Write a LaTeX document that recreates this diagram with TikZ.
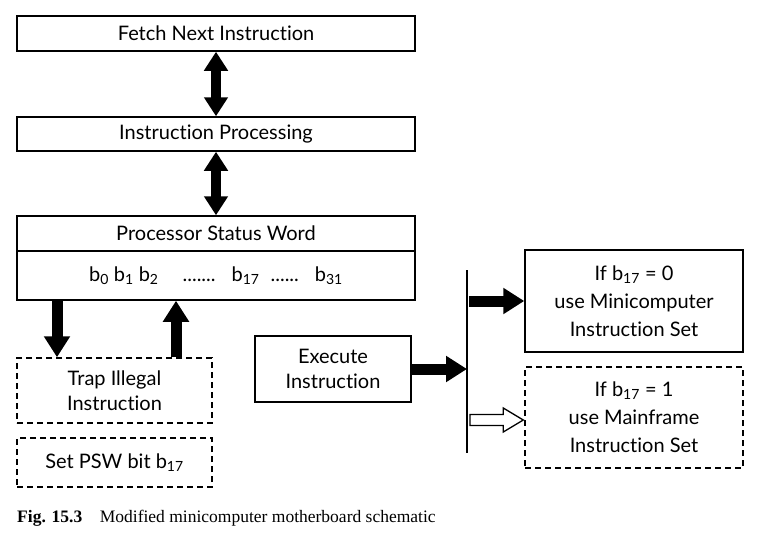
\documentclass[tikz,border=0pt]{standalone}
\usepackage{fontspec}
\setmainfont{Lato}[Ligatures={NoCommon}]
\newfontfamily\capfont{Liberation Serif}
\usetikzlibrary{arrows.meta,calc}
\tikzset{
  box/.style={draw, line width=1.5pt, rectangle, inner sep=0pt, align=center,
    font=\fontsize{20}{25}\selectfont},
  dbox/.style={box, dash pattern=on 6pt off 4pt},
  dblarrow/.style={line width=10pt, {Triangle[width=23pt,length=19pt]}-{Triangle[width=23pt,length=19pt]}},
  blkarrow/.style={line width=11pt, -{Triangle[width=25pt,length=21pt]}},
  hollow/.style={draw, line width=1.3pt, fill=white, line join=miter},
}
\begin{document}
\begin{tikzpicture}[x=1pt,y=-1pt]
\useasboundingbox (0,0) rectangle (779,549);
% boxes
\node[box, minimum width=398pt, minimum height=35pt] (fetch) at (216,33.5) {Fetch Next Instruction};
\node[box, minimum width=398pt, minimum height=34pt] (proc) at (216,134) {Instruction Processing};
\node[box, minimum width=398pt, minimum height=35pt] (psw) at (216,233.5) {Processor Status Word};
\node[box, minimum width=398pt, minimum height=49pt] (bits) at (216,275.5)
  {b\textsubscript{0}\hspace{5pt}b\textsubscript{1}\hspace{5pt}b\textsubscript{2}\hspace{24pt}.......\hspace{16pt}b\textsubscript{17}\hspace{11pt}......\hspace{16pt}b\textsubscript{31}};
\node[dbox, minimum width=195pt, minimum height=65pt] (trap) at (114.5,390.5) {Trap Illegal\\Instruction};
\node[dbox, minimum width=195pt, minimum height=49pt] (setb) at (114.5,462.5) {Set PSW bit b\textsubscript{17}};
\node[box, minimum width=156pt, minimum height=66pt] (exec) at (333,369) {Execute\\Instruction};
\node[box, minimum width=218pt, minimum height=102pt, font=\fontsize{20}{28}\selectfont] (mini) at (634,301) {If b\textsubscript{17} = 0\\use Minicomputer\\Instruction Set};
\node[dbox, minimum width=218pt, minimum height=101pt, font=\fontsize{20}{28}\selectfont] (main) at (634,417.5) {If b\textsubscript{17} = 1\\use Mainframe\\Instruction Set};
% vertical bar
\coordinate (bt) at (467,270);
\coordinate (bb) at (467,453);
\draw[line width=1.5pt] (bt) -- (bb);
% arrows
\draw[dblarrow] (fetch.south) -- (proc.north);
\draw[dblarrow] (proc.south) -- (psw.north);
\coordinate (dn) at (57,0);
\coordinate (up) at (176,0);
\draw[blkarrow] (bits.south -| dn) -- (trap.north -| dn);
\draw[blkarrow] (trap.north -| up) -- (bits.south -| up);
\draw[blkarrow] (exec.east) -- (exec.east -| bt);
\draw[blkarrow] ($(mini.west -| bt)+(2,0)$) -- (mini.west);
\coordinate (hs) at ($(main.west -| bt)+(3,2.5)$);
\coordinate (ht) at ($(main.west)+(-1,2.5)$);
\draw[hollow] ($(hs)+(0,5.5)$) -- ($(ht)+(-20,5.5)$) -- ($(ht)+(-20,12)$) -- (ht)
  -- ($(ht)+(-20,-12)$) -- ($(ht)+(-20,-5.5)$) -- ($(hs)+(0,-5.5)$) -- cycle;
% caption
\node[anchor=base west, inner sep=0pt, font=\capfont\fontsize{17.5}{20}\selectfont] (cap) at (17,522)
  {\textbf{Fig. 15.3}\quad Modified minicomputer motherboard schematic};
\end{tikzpicture}
\end{document}
